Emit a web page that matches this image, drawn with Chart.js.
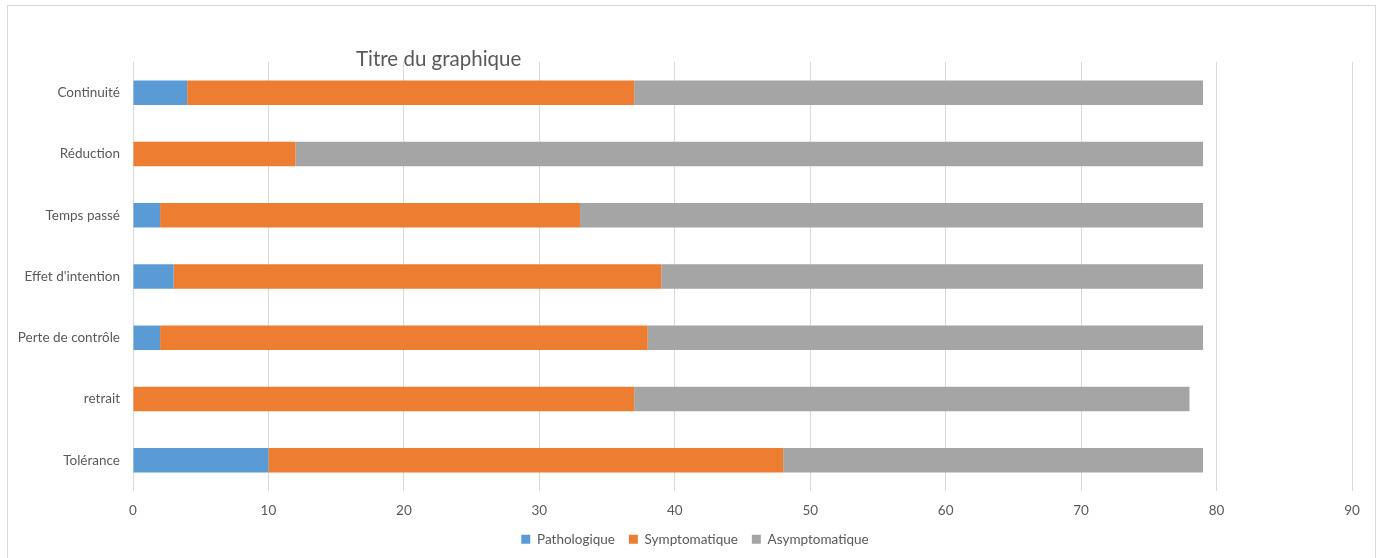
<!DOCTYPE html>
<html>
<head>
<meta charset="utf-8">
<script src="https://cdn.jsdelivr.net/npm/chart.js@4/dist/chart.umd.min.js"></script>
<style>
  html, body { margin: 0; padding: 0; background: #fff; }
  #wrap { position: relative; width: 1382px; height: 558px; overflow: hidden; }
  #frame { position: absolute; left: 7px; top: 5px; width: 1369px; height: 600px; border: 1px solid #d9d9d9; box-sizing: border-box; }
  #title { position: absolute; left: 356px; top: 46px; font: 20.5px Lato, "Open Sans", sans-serif; color: #595959; z-index: 2; }
  canvas { position: absolute; left: 0; top: 0; }
</style>
</head>
<body>
<div id="wrap">
  <div id="frame"></div>
  <canvas id="chart" width="1382" height="558"></canvas>
  <div id="title">Titre du graphique</div>
</div>
<script>
// criteria, top to bottom
const labels = ['Continuité', 'Réduction', 'Temps passé', "Effet d'intention", 'Perte de contrôle', 'retrait', 'Tolérance'];
const pathologique = [4, 0, 2, 3, 2, 0, 10];
const symptomatique = [33, 12, 31, 36, 36, 37, 38];
const asymptomatique = [42, 67, 46, 40, 41, 41, 31];
const xTicks = [0, 10, 20, 30, 40, 50, 60, 70, 80, 90];

const font = { family: 'Lato, "Open Sans", sans-serif', size: 13.5 };

// centre the legend on the whole canvas, not just the padded area
const legendFullWidth = {
  id: 'legendFullWidth',
  afterLayout(chart) {
    const lg = chart.legend;
    if (!lg) return;
    lg.left = 8;
    lg.right = chart.width;
    lg.width = lg.right - lg.left;
  }
};

new Chart(document.getElementById('chart'), {
  type: 'bar',
  data: {
    labels,
    datasets: [
      { label: 'Pathologique', data: pathologique, backgroundColor: '#5B9BD5' },
      { label: 'Symptomatique', data: symptomatique, backgroundColor: '#ED7D31' },
      { label: 'Asymptomatique', data: asymptomatique, backgroundColor: '#A5A5A5' }
    ]
  },
  plugins: [legendFullWidth],
  options: {
    indexAxis: 'y',
    responsive: false,
    animation: false,
    layout: { padding: { top: 62, right: 30, left: 0, bottom: 2 } },
    datasets: { bar: { categoryPercentage: 1, barPercentage: 0.4 } },
    scales: {
      x: {
        stacked: true, min: 0, max: 90,
        afterBuildTicks: s => { s.ticks = xTicks.map(v => ({ value: v })); },
        afterFit: s => { s.height = 27.5; },
        grid: { color: '#d9d9d9', drawTicks: false },
        border: { display: false },
        ticks: { color: '#595959', font, padding: 12 }
      },
      y: {
        stacked: true,
        afterFit: s => { s.width = 133; },
        grid: { display: false, drawTicks: false },
        border: { display: false },
        ticks: { color: '#595959', font, padding: 13 }
      }
    },
    plugins: {
      legend: {
        position: 'bottom',
        labels: { boxWidth: 9, boxHeight: 9, color: '#595959', font, padding: 14 }
      },
      tooltip: { enabled: false }
    }
  }
});
</script>
</body>
</html>
